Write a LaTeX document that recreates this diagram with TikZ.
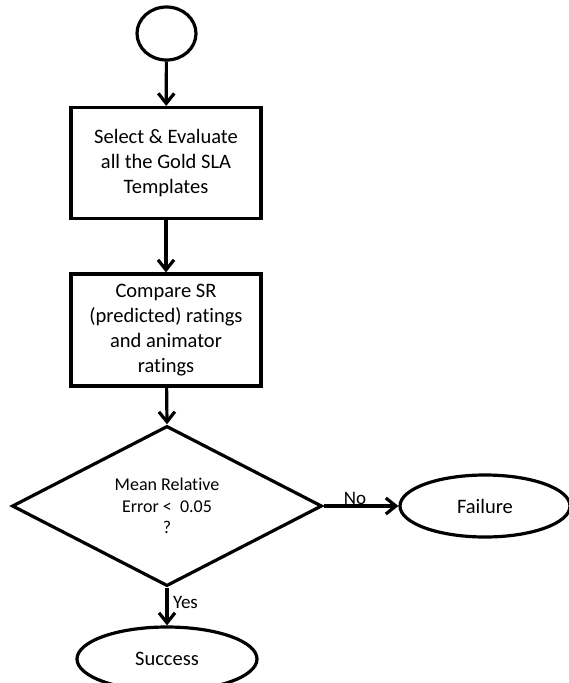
\documentclass[tikz,border=0pt]{standalone}
\usepackage{fontspec}
\setmainfont{Carlito}[Ligatures=NoCommon]
\usetikzlibrary{shapes.geometric,arrows.meta}
\begin{document}
\begin{tikzpicture}[x=1pt,y=-1pt,
  outline/.style={draw=black, line width=3.2pt},
  procbox/.style={outline, rectangle, minimum width=190pt, inner sep=0pt,
    align=center, font=\fontsize{20.5}{25}\selectfont},
  decision/.style={outline, diamond, minimum width=310pt, minimum height=128pt,
    inner sep=0pt, align=center, font=\fontsize{18}{21.5}\selectfont},
  terminal/.style={outline, ellipse, inner sep=0pt, font=\fontsize{20.5}{25}\selectfont},
  flow/.style={line width=3.2pt, line join=round,
    -{Straight Barb[length=10pt,width=16pt,line width=3.2pt]}},
  edgelabel/.style={inner sep=0pt, font=\fontsize{19}{22}\selectfont}
]
\useasboundingbox (0,0) rectangle (569,683);

% start terminal
\node[terminal, minimum width=59pt, minimum height=53pt] (start) at (166.5,33.5) {};

% process steps
\node[procbox, minimum height=111pt] (select) at (166,163)
  {Select \& Evaluate\\all the Gold SLA\\Templates};
\node[procbox, minimum height=112pt] (compare) at (166,330)
  {Compare SR\\(predicted) ratings\\and animator\\ratings};

% decision
\node[decision] (check) at (167,506)
  {Mean Relative\\Error {<}\ \ 0.05\\?};

% outcomes
\node[terminal, minimum width=170pt, minimum height=62pt] (fail) at (485,506) {Failure};
\node[terminal, minimum width=180pt, minimum height=64pt] (success) at (167,659) {Success};

% connectors
\draw[flow] (start) -- (select);
\draw[flow] (select) -- (compare);
\draw[flow] (compare) -- (check.north);
\draw[flow] (check.east) -- node[edgelabel, pos=0.42, anchor=base, yshift=1.5pt] {No} (fail.west);
\draw[flow] (check.south) -- node[edgelabel, pos=0.4, anchor=west, xshift=4.5pt] {Yes} (success.north);
\end{tikzpicture}
\end{document}
